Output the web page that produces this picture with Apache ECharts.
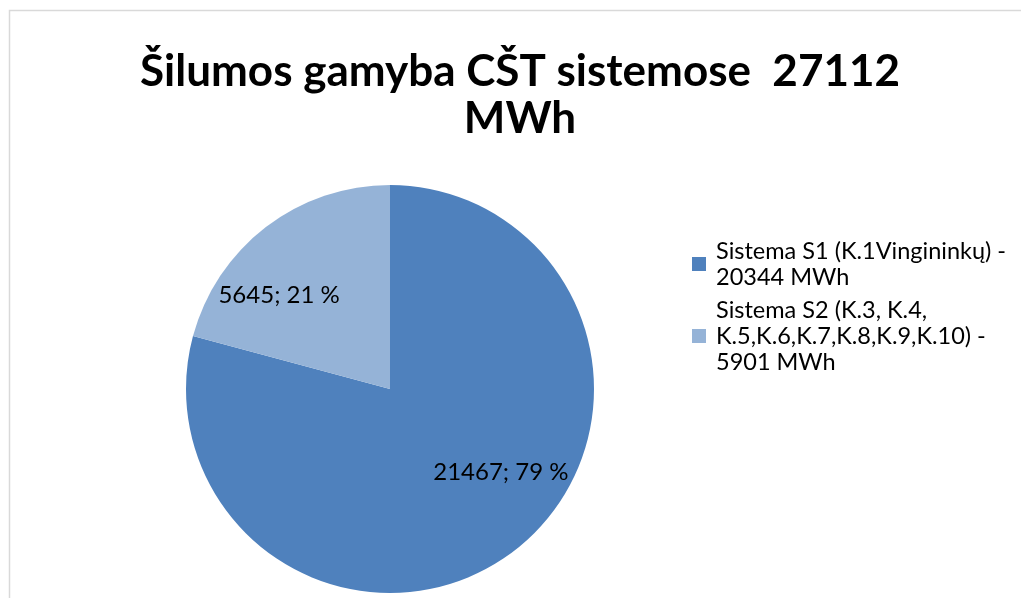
<!DOCTYPE html>
<html><head><meta charset="utf-8">
<script src="https://cdn.jsdelivr.net/npm/echarts@6/dist/echarts.min.js"></script>
<style>html,body{margin:0;padding:0;background:#fff}#c{width:1021px;height:598px}</style>
</head><body><div id="c"></div>
<script>
const titleText = 'Šilumos gamyba CŠT sistemose  27112\nMWh';
const categories = ['Sistema S1 (K.1Vingininkų) -\n20344 MWh', 'Sistema S2 (K.3, K.4,\nK.5,K.6,K.7,K.8,K.9,K.10) -\n5901 MWh'];
const values = [21467, 5645];
const colors = ['#4F81BD', '#95B3D7'];
const labelOffsets = [[47, 0], [-47, -10]];
const FONT = 'Lato';

const chart = echarts.init(document.getElementById('c'));
chart.setOption({
  animation: false,
  backgroundColor: '#fff',
  graphic: [{
    type: 'rect', silent: true,
    shape: { x: 9.5, y: 10.5, width: 1100, height: 700 },
    style: { fill: 'none', stroke: '#d9d9d9', lineWidth: 1.5 }
  }],
  title: {
    text: titleText, left: 520, top: 48, padding: 0, textAlign: 'center',
    textStyle: { fontFamily: FONT, fontSize: 44, fontWeight: 'bold', color: '#000', lineHeight: 47 }
  },
  legend: {
    orient: 'vertical', left: 692, top: 238, itemWidth: 14, itemHeight: 14, itemGap: 7,
    icon: 'rect', padding: 0,
    textStyle: { fontFamily: FONT, fontSize: 23.5, color: '#000', lineHeight: 26, padding: [0, 0, 0, 5] },
    data: categories
  },
  series: [{
    type: 'pie', center: [390, 389], radius: 204, startAngle: 90, clockwise: true,
    label: {
      position: 'inside', fontFamily: FONT, fontSize: 24, color: '#000',
      formatter: p => p.value + '; ' + Math.round(p.percent) + ' %'
    },
    labelLine: { show: false },
    emphasis: { disabled: true },
    data: categories.map((n, i) => ({
      name: n, value: values[i], itemStyle: { color: colors[i] },
      label: { offset: labelOffsets[i] }
    }))
  }]
});
</script></body></html>
